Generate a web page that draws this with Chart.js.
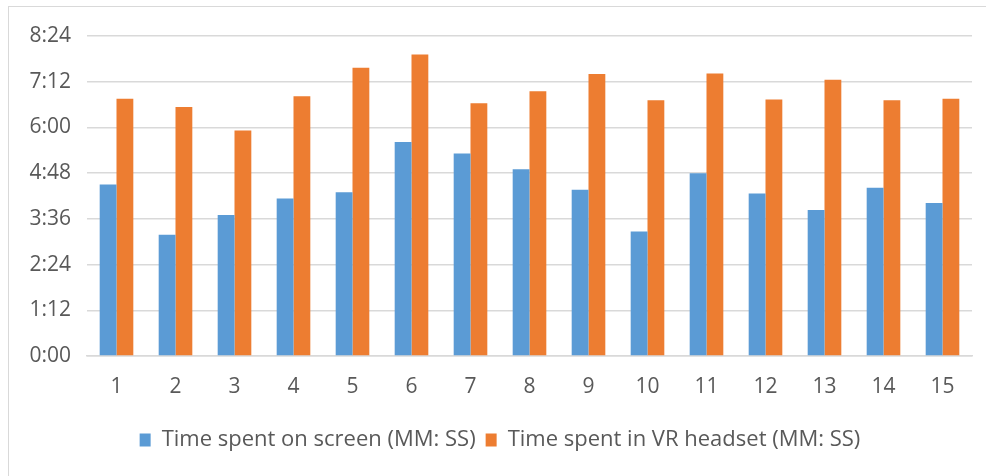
<!DOCTYPE html>
<html>
<head>
<meta charset="utf-8">
<script src="https://cdn.jsdelivr.net/npm/chart.js@4.4.0/dist/chart.umd.min.js"></script>
<style>
    html, body { margin: 0; padding: 0; background: #fff; overflow: hidden; }
    #frame { position: absolute; left: 8px; top: 6px; width: 1100px; height: 600px; border: 1.5px solid #d9d9d9; }
    #chart { position: absolute; left: 0; top: 0; }
</style>
</head>
<body>
<div id="frame"></div>
<canvas id="chart" width="986" height="476"></canvas>
<script>
// participants 1..15
var participants = ['1', '2', '3', '4', '5', '6', '7', '8', '9', '10', '11', '12', '13', '14', '15'];

// times, MM:SS
var screenTimes = ['4:30', '3:11', '3:42', '4:08', '4:18', '5:37', '5:19', '4:54', '4:22', '3:16', '4:48', '4:16', '3:50', '4:25', '4:01'];
var vrTimes = ['6:45', '6:32', '5:55', '6:49', '7:34', '7:55', '6:38', '6:57', '7:24', '6:43', '7:25', '6:44', '7:15', '6:43', '6:45'];

// y axis ticks: 0:00 to 8:24 every 1:12
var yMax = 504;
var yStep = 72;

function toSeconds(t) {
    var parts = t.split(':');
    return parseInt(parts[0]) * 60 + parseInt(parts[1]);
}

function toMinSec(s) {
    var m = Math.floor(s / 60);
    var sec = s % 60;
    return m + ':' + (sec < 10 ? '0' : '') + sec;
}

var fontFamily = '"Open Sans", "Noto Sans", sans-serif';
var textColor = '#595959';
var gridColor = '#d9d9d9';

var ctx = document.getElementById('chart').getContext('2d');

var timeChart = new Chart(ctx, {
    type: 'bar',
    data: {
        labels: participants,
        datasets: [{
            label: 'Time spent on screen (MM: SS)',
            data: screenTimes.map(toSeconds),
            backgroundColor: '#5b9bd5',
            categoryPercentage: 0.57,
            barPercentage: 1.0
        }, {
            label: 'Time spent in VR headset (MM: SS)',
            data: vrTimes.map(toSeconds),
            backgroundColor: '#ed7d31',
            categoryPercentage: 0.57,
            barPercentage: 1.0
        }]
    },
    options: {
        responsive: false,
        animation: false,
        layout: {
            padding: { left: 28, right: 14, top: 36, bottom: 15 }
        },
        scales: {
            x: {
                grid: { display: false, drawTicks: false },
                border: { display: true, color: gridColor, width: 1.5 },
                ticks: {
                    color: textColor,
                    padding: 18,
                    maxRotation: 0,
                    font: { family: fontFamily, size: 21 }
                },
                afterFit: function(scale) { scale.height = 63; }
            },
            y: {
                min: 0,
                max: yMax,
                border: { display: false },
                grid: { color: gridColor, lineWidth: 1.5, drawTicks: false },
                ticks: {
                    stepSize: yStep,
                    color: textColor,
                    padding: 16,
                    font: { family: fontFamily, size: 21 },
                    callback: function(value) { return toMinSec(value); }
                },
                afterFit: function(scale) { scale.width = 59; }
            }
        },
        plugins: {
            legend: {
                position: 'bottom',
                labels: {
                    color: textColor,
                    boxWidth: 11,
                    boxHeight: 13,
                    padding: 10,
                    font: { family: fontFamily, size: 22 }
                }
            },
            tooltip: { enabled: false }
        }
    }
});
</script>
</body>
</html>
